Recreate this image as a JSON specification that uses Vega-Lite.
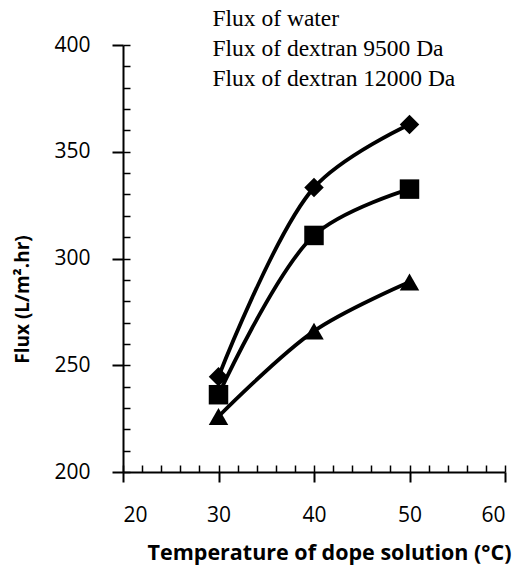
{
  "$schema": "https://vega.github.io/schema/vega-lite/v6.json",
  "width": 382,
  "height": 427,
  "autosize": {"type": "none"},
  "padding": {"left": 123, "top": 45, "right": 21, "bottom": 109},
  "background": "white",
  "config": {"view": {"stroke": null}},
  "data": {
    "values": [
      {"series": "Flux of water", "temp": 30, "flux": 244.6},
      {"series": "Flux of water", "temp": 40, "flux": 333.2},
      {"series": "Flux of water", "temp": 50, "flux": 362.8},
      {"series": "Flux of dextran 9500 Da", "temp": 30, "flux": 236.2},
      {"series": "Flux of dextran 9500 Da", "temp": 40, "flux": 310.8},
      {"series": "Flux of dextran 9500 Da", "temp": 50, "flux": 332.5},
      {"series": "Flux of dextran 12000 Da", "temp": 30, "flux": 226.0},
      {"series": "Flux of dextran 12000 Da", "temp": 40, "flux": 266.0},
      {"series": "Flux of dextran 12000 Da", "temp": 50, "flux": 289.0}
    ]
  },
  "layer": [
    {
      "mark": {"type": "line", "interpolate": "catmull-rom", "color": "black", "strokeWidth": 3.8},
      "encoding": {
        "x": {
          "field": "temp", "type": "quantitative",
          "scale": {"domain": [20, 60], "nice": false, "zero": false},
          "axis": {
            "orient": "bottom", "values": [20, 30, 40, 50, 60], "grid": false,
            "domainColor": "black", "domainWidth": 2, "tickColor": "black", "tickWidth": 2, "tickSize": 10,
            "labelFont": "Open Sans", "labelFontSize": 21, "labelColor": "black", "labelPadding": 22,
            "title": "Temperature of  dope solution (°C)", "titleFont": "Open Sans", "titleFontSize": 21.5,
            "titleFontWeight": "bold", "titleColor": "black", "titleX": 206, "titleY": 81,
            "titleBaseline": "middle", "titleAlign": "center"
          }
        },
        "y": {
          "field": "flux", "type": "quantitative",
          "scale": {"domain": [200, 400], "nice": false, "zero": false},
          "axis": {
            "orient": "left", "values": [200, 250, 300, 350, 400], "grid": false,
            "domainColor": "black", "domainWidth": 2, "tickColor": "black", "tickWidth": 2, "tickSize": 11,
            "labelFont": "Open Sans", "labelFontSize": 21, "labelColor": "black", "labelPadding": 22,
            "title": "Flux (L/m².hr)", "titleFont": "Open Sans", "titleFontSize": 19,
            "titleFontWeight": "bold", "titleColor": "black", "titleX": -101, "titleY": 254,
            "titleBaseline": "middle", "titleAlign": "center", "titleAngle": -90
          }
        },
        "detail": {"field": "series", "type": "nominal"}
      }
    },
    {
      "mark": {"type": "point", "filled": true, "color": "black", "opacity": 1, "size": 380},
      "encoding": {
        "x": {
          "field": "temp", "type": "quantitative",
          "axis": {
            "orient": "bottom", "values": [20, 22, 24, 26, 28, 30, 32, 34, 36, 38, 40, 42, 44, 46, 48, 50, 52, 54, 56, 58, 60],
            "grid": false, "domain": false, "labels": false, "title": null,
            "tickColor": "black", "tickWidth": 1.5, "tickSize": -7
          }
        },
        "y": {
          "field": "flux", "type": "quantitative",
          "axis": {
            "orient": "left", "values": [200, 210, 220, 230, 240, 250, 260, 270, 280, 290, 300, 310, 320, 330, 340, 350, 360, 370, 380, 390, 400],
            "grid": false, "domain": false, "labels": false, "title": null,
            "tickColor": "black", "tickWidth": 1.5, "tickSize": -7
          }
        },
        "shape": {
          "field": "series", "type": "nominal",
          "scale": {
            "domain": ["Flux of water", "Flux of dextran 9500 Da", "Flux of dextran 12000 Da"],
            "range": ["diamond", "square", "triangle-up"]
          },
          "legend": {
            "orient": "none", "legendX": 66, "legendY": -38, "title": null,
            "symbolOpacity": 0, "symbolSize": 1, "symbolStrokeWidth": 0, "labelOffset": 0,
            "labelFont": "Liberation Serif", "labelFontSize": 23.5, "labelColor": "black",
            "labelLimit": 400, "rowPadding": 5
          }
        }
      }
    }
  ],
  "resolve": {"axis": {"x": "independent", "y": "independent"}}
}
